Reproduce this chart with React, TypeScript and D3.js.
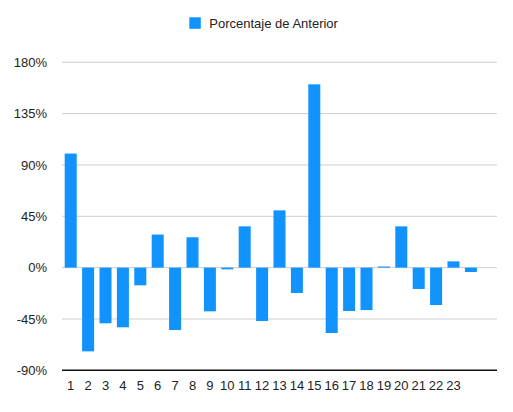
import React from "react";
import * as d3 from "d3";

const categories = ["1","2","3","4","5","6","7","8","9","10","11","12","13","14","15","16","17","18","19","20","21","22","23","24","25"];
const tickLabels = ["1","2","3","4","5","6","7","8","9","10","11","12","13","14","15","16","17","18","19","20","21","22","23","",""];
const values: (number | null)[] = [100, -73.4, -48.8, -52.3, -15.5, 29, -54.7, 26.6, -38.3, -1.5, 36.2, -46.8, 50.2, -22.2, 160.7, -57.3, -38, -37.2, 1, 36.2, -18.7, -32.8, 5.5, -3.8, null];
const yTicks = [-90, -45, 0, 45, 90, 135, 180];
const seriesName = "Porcentaje de Anterior";

const W = 513, H = 412;
const left = 62, right = 497, top = 62.3, bottom = 370.3;
const color = "#1193fe";
const font = "'Liberation Sans', Arial, Helvetica, sans-serif";

export default function App() {
  const x = d3.scaleBand<string>().domain(categories).range([left, right]).paddingInner(0.31).paddingOuter(0.155);
  const y = d3.scaleLinear().domain([-90, 180]).range([bottom, top]);
  return (
    <svg width={W} height={H} style={{ position: "absolute", left: 0, top: 0, background: "#fff" }}>
      <rect x={189.3} y={17.3} width={11.5} height={11.5} fill={color} />
      <text x={209.3} y={27.7} fontFamily={font} fontSize={13} fill="#222">{seriesName}</text>
      {yTicks.map(t => (
        <g key={t}>
          {t !== -90 && <line x1={left} x2={right} y1={y(t)} y2={y(t)} stroke="#cccccc" strokeWidth={1} />}
          <text x={47} y={y(t)} dy="0.35em" textAnchor="end" fontFamily={font} fontSize={13} fill="#222">{t}%</text>
        </g>
      ))}
      {categories.map((c, i) => {
        const v = values[i];
        if (v === null) return null;
        const y0 = y(0), y1 = y(v);
        return <rect key={c} x={x(c)} width={x.bandwidth()} y={Math.min(y0, y1)} height={Math.max(Math.abs(y1 - y0), 1)} fill={color} />;
      })}
      <line x1={left} x2={right} y1={bottom} y2={bottom} stroke="#111" strokeWidth={1.5} />
      {categories.map((c, i) => (
        <text key={c} x={(x(c) as number) + x.bandwidth() / 2} y={390} textAnchor="middle" fontFamily={font} fontSize={13} fill="#222">{tickLabels[i]}</text>
      ))}
    </svg>
  );
}
